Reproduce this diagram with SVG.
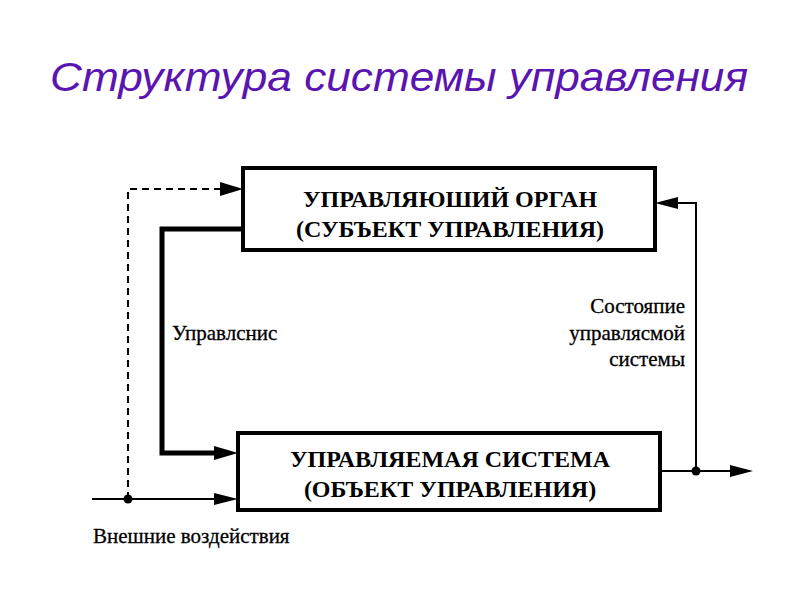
<svg xmlns="http://www.w3.org/2000/svg" width="800" height="600" viewBox="0 0 800 600">
<style>
.box{fill:#fff;stroke:#000;stroke-width:4}
.bt{font-family:"Liberation Serif",serif;font-weight:bold;font-size:24px;text-anchor:middle;fill:#000}
.lb{font-family:"Liberation Serif",serif;font-size:21px;fill:#000;stroke:#000;stroke-width:0.3}
.thin{fill:none;stroke:#000;stroke-width:2}
.thick{fill:none;stroke:#000;stroke-width:5}
.dash{fill:none;stroke:#000;stroke-width:2;stroke-dasharray:7,5}
</style>
<rect width="800" height="600" fill="#fff"/>
<text x="399" y="91" font-family="Liberation Sans,Arial,sans-serif" font-style="italic" font-size="40" fill="#5a14b0" text-anchor="middle" textLength="698" lengthAdjust="spacingAndGlyphs">Структура системы управления</text>
<g id="connectors">
<path class="dash" d="M128,499 V189 H226"/>
<path d="M220,182 L243,189 L220,196 z" fill="#000"/>
<path class="thick" d="M243,229 H162 V453 H222"/>
<path d="M214,446 L238,453 L214,460 z" fill="#000"/>
<path class="thin" d="M92,499 H222"/>
<path d="M214,493 L238,499 L214,505 z" fill="#000"/>
<circle cx="128" cy="499" r="4.5" fill="#000"/>
<path class="thin" d="M660,471 H738"/>
<path d="M730,465 L753,471 L730,477 z" fill="#000"/>
<path class="thin" d="M696,471 V203 H672"/>
<path d="M678,197 L655,203 L678,209 z" fill="#000"/>
<circle cx="696" cy="471" r="4.5" fill="#000"/>
</g>
<g id="node-subject">
<rect class="box" x="243" y="168" width="412" height="82"/>
<text class="bt" x="450" y="207">УПРАВЛЯЮШИЙ ОРГАН</text>
<text class="bt" x="450" y="237">(СУБЪЕКТ УПРАВЛЕНИЯ)</text>
</g>
<g id="node-object">
<rect class="box" x="238" y="433" width="422" height="77"/>
<text class="bt" x="450" y="467">УПРАВЛЯЕМАЯ СИСТЕМА</text>
<text class="bt" x="450" y="497">(ОБЪЕКТ УПРАВЛЕНИЯ)</text>
</g>
<g id="labels">
<text class="lb" x="172" y="340">Управлснис</text>
<text class="lb" x="685" y="313" text-anchor="end">Состояпие</text>
<text class="lb" x="685" y="340" text-anchor="end">управлясмой</text>
<text class="lb" x="685" y="366" text-anchor="end">системы</text>
<text class="lb" x="93" y="543">Внешние воздействия</text>
</g>
</svg>
